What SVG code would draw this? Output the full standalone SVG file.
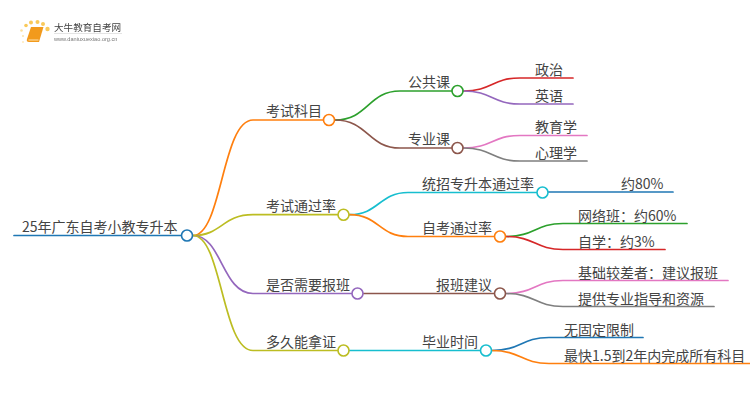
<svg xmlns="http://www.w3.org/2000/svg" width="750" height="410" viewBox="0 0 750 410">
<style>
text{font-family:"Noto Sans CJK SC","Noto Sans",sans-serif;font-size:14px;fill:#444}
.c path{fill:none;stroke-width:1.700;stroke-linecap:round}
.n{fill:#fff;stroke-width:1.600}
</style>
<defs><filter id="soft" x="-5%" y="-5%" width="110%" height="110%"><feGaussianBlur stdDeviation="0.350"/></filter></defs>
<rect width="750" height="410" fill="#fff"/>
<g id="logo" filter="url(#soft)">
<g fill="#f9c95a"><circle cx="21.500" cy="30.500" r="1.300" opacity=".6"/><circle cx="23" cy="36" r="1" opacity=".5"/><circle cx="23" cy="42" r="1" opacity=".4"/><circle cx="26" cy="25.500" r="1.800"/><circle cx="31" cy="22.500" r="2"/><circle cx="37.500" cy="22" r="2"/><circle cx="43" cy="24" r="2"/><circle cx="47.500" cy="29" r="2.200"/></g>
<path d="M31 27H43.500L39 42H29Q26 42 27 39Z" fill="#f29a1f"/><path d="M28.500 40H38.500" stroke="#fde3ae" stroke-width="1"/>
<text x="54" y="30.500" style="font-size:9.600px;fill:#444">大牛教育自考网</text>
<path d="M54 33.500H122" stroke="#ddd" stroke-width=".8"/>
<text x="54" y="41" style="font-size:5.600px;fill:#777;font-family:'Liberation Sans',sans-serif">www.daniuxuexiao.org.cn</text>
</g>
<g id="connectors" class="c">
<path stroke="#1f77b4" d="M14 235.500H181"/>
<path stroke="#ff7f0e" d="M193 235.500C222 235.500 222 120 253 120H323"/>
<path stroke="#bcbd22" d="M193 235.500C222 235.500 222 214.700 253 214.700H337.500"/>
<path stroke="#9467bd" d="M193 235.500C222 235.500 222 293.500 253 293.500H351.500"/>
<path stroke="#bcbd22" d="M193 235.500C222 235.500 222 350.500 253 350.500H337.500"/>
<path stroke="#2ca02c" d="M335 120C368 120 368 91 400 91H451.500"/>
<path stroke="#8c564b" d="M335 120C368 120 368 148 400 148H451.500"/>
<path stroke="#17becf" d="M349.500 214.700C379 214.700 379 192.500 408 192.500H536.500"/>
<path stroke="#ff7f0e" d="M349.500 214.700C379 214.700 379 236.500 408 236.500H494"/>
<path stroke="#8c564b" d="M363.500 293.500H494"/>
<path stroke="#17becf" d="M349.500 350.500H480"/>
<path stroke="#d62728" d="M463.500 91C492 91 492 78 520 78H573"/>
<path stroke="#9467bd" d="M463.500 91C492 91 492 104 520 104H573"/>
<path stroke="#e377c2" d="M463.500 148C492 148 492 135.500 520 135.500H587"/>
<path stroke="#7f7f7f" d="M463.500 148C492 148 492 161 520 161H587"/>
<path stroke="#1f77b4" d="M548.500 192H673"/>
<path stroke="#2ca02c" d="M506 236.500C535 236.500 535 223.500 563 223.500H687"/>
<path stroke="#d62728" d="M506 236.500C535 236.500 535 249.500 563 249.500H665"/>
<path stroke="#e377c2" d="M506 293.500C535 293.500 535 280.500 563 280.500H728"/>
<path stroke="#7f7f7f" d="M506 293.500C535 293.500 535 306.500 563 306.500H714"/>
<path stroke="#1f77b4" d="M492 350.500C521 350.500 521 337.500 549 337.500H643"/>
<path stroke="#ff7f0e" d="M492 350.500C521 350.500 521 363.500 549 363.500H750"/>
</g>
<g id="root"><text x="22" y="232">25年广东自考小教专升本</text><circle class="n" cx="187" cy="235.500" r="5.500" stroke="#1f77b4"/></g>
<g id="n1"><text x="266" y="116">考试科目</text><circle class="n" cx="329" cy="120" r="5.500" stroke="#ff7f0e"/></g>
<g id="n2"><text x="266" y="210.500">考试通过率</text><circle class="n" cx="343.500" cy="214.700" r="5.500" stroke="#bcbd22"/></g>
<g id="n3"><text x="266" y="289.500">是否需要报班</text><circle class="n" cx="357.500" cy="293.500" r="5.500" stroke="#9467bd"/></g>
<g id="n4"><text x="266" y="346.500">多久能拿证</text><circle class="n" cx="343.500" cy="350.500" r="5.500" stroke="#bcbd22"/></g>
<g id="n5"><text x="408" y="87">公共课</text><circle class="n" cx="457.500" cy="91" r="5.500" stroke="#2ca02c"/></g>
<g id="n6"><text x="408" y="144">专业课</text><circle class="n" cx="457.500" cy="148" r="5.500" stroke="#8c564b"/></g>
<g id="n7"><text x="422" y="188.500">统招专升本通过率</text><circle class="n" cx="542.500" cy="192.500" r="5.500" stroke="#17becf"/></g>
<g id="n8"><text x="422" y="232.500">自考通过率</text><circle class="n" cx="500" cy="236.500" r="5.500" stroke="#ff7f0e"/></g>
<g id="n9"><text x="436" y="289.500">报班建议</text><circle class="n" cx="500" cy="293.500" r="5.500" stroke="#8c564b"/></g>
<g id="n10"><text x="422" y="346.500">毕业时间</text><circle class="n" cx="486" cy="350.500" r="5.500" stroke="#17becf"/></g>
<g id="l1"><text x="535" y="74.500">政治</text></g>
<g id="l2"><text x="535" y="100.500">英语</text></g>
<g id="l3"><text x="535" y="131.500">教育学</text></g>
<g id="l4"><text x="535" y="157.500">心理学</text></g>
<g id="l5"><text x="621" y="188.500">约80%</text></g>
<g id="l6"><text x="578" y="220.500">网络班：约60%</text></g>
<g id="l7"><text x="578" y="246.500">自学：约3%</text></g>
<g id="l8"><text x="578" y="277.500">基础较差者：建议报班</text></g>
<g id="l9"><text x="578" y="303.500">提供专业指导和资源</text></g>
<g id="l10"><text x="564" y="334.500">无固定限制</text></g>
<g id="l11"><text x="564" y="360.500">最快1.5到2年内完成所有科目</text></g>
</svg>
